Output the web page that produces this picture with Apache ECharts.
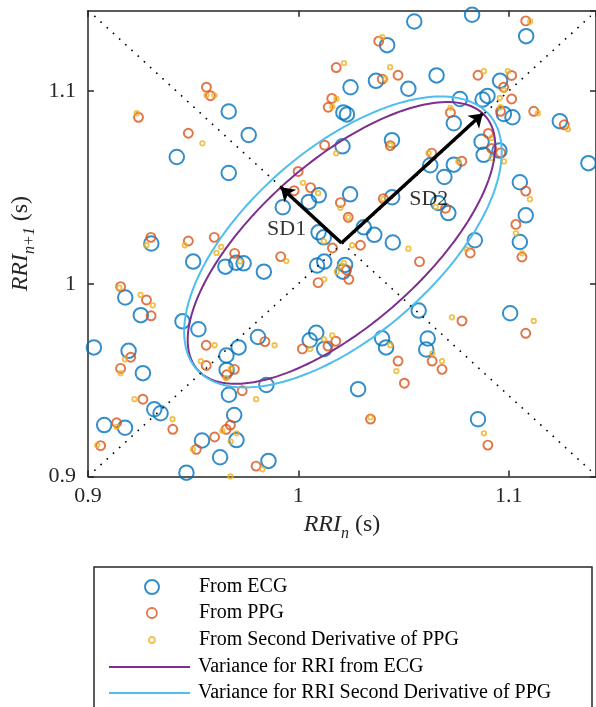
<!DOCTYPE html>
<html><head><meta charset="utf-8">
<script src="https://cdn.jsdelivr.net/npm/echarts@6/dist/echarts.min.js"></script>
<style>html,body{margin:0;padding:0;background:#fff}#c{width:596px;height:707px}</style>
</head><body><div id="c"></div><script>
// ---- data (seconds) ----
const ecgX = [0.9669,0.9764,0.9422,0.9669,0.9301,0.9500,0.9653,0.9705,0.9740,0.9836,0.9177,0.9251,0.9449,0.9525,0.9028,0.9193,0.9261,0.9716,0.9658,0.9659,0.9808,0.9848,0.9670,0.9315,0.9345,0.9077,0.9176,0.9695,0.9706,0.9542,0.9628,0.9468,0.9858,1.0551,1.0826,1.1083,1.0422,1.0248,1.0369,1.0523,1.0657,1.0214,1.0231,1.0210,1.0445,1.0097,1.0050,0.9926,1.0246,1.0446,1.0311,1.0361,1.0096,1.0121,1.0449,1.0959,1.0899,1.0876,1.0768,1.0739,1.0977,1.1018,1.1243,1.1379,1.0871,1.0881,1.0956,1.0739,1.0627,1.0694,1.1053,1.1081,1.1053,1.0839,1.0665,1.0713,1.0089,1.0123,1.0222,1.0212,1.0572,1.0615,1.0608,1.0398,1.0417,1.0284,1.0085,1.0054,1.0123,1.1007,1.0854];
const ecgY = [1.0894,1.0772,1.0658,1.0575,1.0209,1.0115,1.0089,1.0109,1.0106,1.0063,0.9929,0.9837,0.9805,0.9764,0.9670,0.9652,0.9536,0.9670,0.9628,0.9553,0.9724,0.9475,0.9424,0.9349,0.9328,0.9267,0.9253,0.9319,0.9189,0.9187,0.9100,0.9020,0.9081,1.1361,1.1396,1.1285,1.1238,1.1020,1.1053,1.1012,1.1081,1.0889,1.0879,1.0713,1.0745,1.0459,1.0425,1.0397,1.0464,1.0449,1.0293,1.0254,1.0267,1.0241,1.0214,1.1053,1.0975,1.0956,1.0959,1.0833,1.0881,1.0864,1.0844,1.0626,1.0737,1.0669,1.0691,1.0618,1.0615,1.0554,1.0527,1.0355,1.0217,1.0226,1.0419,1.0367,1.0095,1.0115,1.0098,1.0063,0.9861,0.9716,0.9659,0.9717,0.9670,0.9453,0.9746,0.9707,0.9662,0.9847,0.9297];

const ppgX = [0.9563,0.9582,0.9240,0.9477,0.9299,0.9477,0.9600,0.9697,0.9916,0.9155,0.9278,0.9300,0.9203,0.9155,0.9562,0.9562,0.9696,0.9659,0.9733,0.9261,0.9403,0.9136,0.9060,0.9677,0.9657,0.9602,0.9515,0.9799,0.9841,1.0382,1.1081,1.0180,1.0399,1.0474,1.0159,1.0142,1.0125,1.0437,0.9999,1.0058,0.9980,1.0200,1.0237,1.0162,1.0295,1.0404,1.0854,1.1014,1.0976,1.1014,1.0723,1.0961,1.1119,1.1264,1.0903,1.0919,1.0962,1.0777,1.0634,1.1081,1.1034,1.0700,1.0576,1.0817,1.1063,1.0229,1.0240,1.0094,1.0019,1.0178,1.0141,1.0474,1.0504,1.0343,1.0778,1.1081,1.0636,1.0683,1.0901];
const ppgY = [1.1020,1.0976,1.0864,1.0781,1.0241,1.0222,1.0241,1.0158,1.0141,0.9985,0.9916,0.9834,0.9619,0.9561,0.9681,0.9576,0.9556,0.9528,0.9445,0.9401,0.9245,0.9279,0.9160,0.9267,0.9245,0.9205,0.9141,0.9054,0.9700,1.1259,1.1364,1.1122,1.1062,1.1082,1.0962,1.0916,1.0719,1.0717,1.0583,1.0499,1.0483,1.0421,1.0345,1.0186,1.0200,1.0442,1.1082,1.1081,1.1020,1.0959,1.0888,1.0895,1.0895,1.0825,1.0780,1.0702,1.0680,1.0636,1.0678,1.0481,1.0308,1.0392,1.0115,1.0160,1.0139,1.0072,1.0023,1.0006,0.9662,0.9702,0.9677,0.9599,0.9484,0.9298,0.9807,0.9743,0.9599,0.9556,0.9163];

const d2X = [0.9563,0.9601,0.9232,0.9544,0.9278,0.9460,0.9633,0.9611,0.9724,0.9943,0.9149,0.9250,0.9308,0.9175,0.9155,0.9602,0.9536,0.9680,0.9656,0.9799,0.9221,0.9402,0.9136,0.9044,0.9639,0.9706,0.9678,0.9499,0.9677,0.9829,0.9887,1.0399,1.0217,1.0414,1.0436,1.0181,1.0161,1.0180,1.0437,1.0022,1.0094,1.0200,1.0237,1.0121,1.0256,1.0404,1.1102,1.0882,1.0996,1.0977,1.0958,1.0961,1.0723,1.1139,1.1281,1.0918,1.0918,1.0978,1.0761,1.0619,1.1101,1.1034,1.0653,1.0523,1.0800,1.1064,1.0216,1.0200,1.0183,1.0123,1.0056,1.0122,1.0161,1.0437,1.0466,1.0343,1.0730,1.1119,1.0637,1.0683,1.0882];
const d2Y = [1.0978,1.0978,1.0885,1.0729,1.0200,1.0200,1.0191,1.0160,1.0116,1.0118,0.9980,0.9942,0.9888,0.9608,0.9536,0.9681,0.9599,0.9561,0.9510,0.9401,0.9401,0.9297,0.9258,0.9163,0.9237,0.9224,0.9181,0.9141,0.9001,0.9037,0.9681,1.1280,1.1145,1.1063,1.1124,1.0960,1.0918,1.0677,1.0720,1.0524,1.0470,1.0394,1.0345,1.0220,1.0200,1.0440,1.1361,1.1103,1.1103,1.1006,1.0964,1.0916,1.0913,1.0885,1.0802,1.0757,1.0653,1.0635,1.0635,1.0678,1.0439,1.0262,1.0399,1.0182,1.0179,1.0158,1.0109,1.0092,1.0063,1.0023,0.9661,0.9712,0.9732,0.9681,0.9547,0.9307,0.9826,0.9807,0.9639,0.9599,0.9224];

// ellipse parameters: centre [x, y] and [SD1, SD2]
const ecgCentre = [1.0205, 1.0212];
const ecgSD = [0.0408, 0.0950];
const d2Centre = [1.0212, 1.0217];
const d2SD = [0.0467, 0.0960];

// axis ticks
const axisMin = 0.9, xMax = 1.1415, yMax = 1.1417, tickStep = 0.1;
const tickLabels = {'0.9':'0.9','1':'1','1.1':'1.1'};

const names = ['From ECG','From PPG','From Second Derivative of PPG','Variance for RRI from ECG','Variance for RRI Second Derivative of PPG'];
const colors = ['#0072BD','#D95319','#EDB120','#7E2F8E','#4DBEEE'];

function zip(a,b){return a.map((v,i)=>[v,b[i]]);}
function ellipse(c, sd){
  const pts=[];
  for(let k=0;k<=360;k+=2){
    const t=k*Math.PI/180, u=sd[1]*Math.cos(t), v=sd[0]*Math.sin(t);
    pts.push([c[0]+(u-v)/Math.SQRT2, c[1]+(u+v)/Math.SQRT2]);
  }
  return pts;
}
const sd1Tip=[ecgCentre[0]-ecgSD[0]/Math.SQRT2, ecgCentre[1]+ecgSD[0]/Math.SQRT2];
const sd2Tip=[ecgCentre[0]+ecgSD[1]/Math.SQRT2, ecgCentre[1]+ecgSD[1]/Math.SQRT2];

const AX='#262626', FONT='Liberation Serif';
function fmt(v){const k=(Math.round(v*1000)/1000).toString(); return tickLabels[k]!==undefined?tickLabels[k]:'';}
const rich={
  i:{fontFamily:FONT,fontStyle:'italic',fontSize:24,color:AX,verticalAlign:'bottom',padding:[0,0,5,0]},
  s:{fontFamily:FONT,fontStyle:'italic',fontSize:16,color:AX,verticalAlign:'bottom'},
  r:{fontFamily:FONT,fontSize:24,color:AX,verticalAlign:'bottom',padding:[0,0,5,0]}
};
function axis(pos, main, max, extra){
  return Object.assign({
    type:'value', position:pos, min:axisMin, max:max, interval:tickStep,
    axisLine:{show:true,onZero:false,lineStyle:{color:AX,width:1.5}},
    axisTick:{show:true,inside:true,length:6,lineStyle:{color:AX,width:1.5}},
    axisLabel:{show:main,formatter:fmt,showMaxLabel:false,fontFamily:FONT,fontSize:22,color:AX},
    splitLine:{show:false}
  }, extra||{});
}
function scatter(idx, x, y, size, bw){
  return {name:names[idx], type:'scatter', data:zip(x,y), symbol:'circle', symbolSize:size,
    itemStyle:{color:'rgba(0,0,0,0)', borderColor:colors[idx], borderWidth:bw}, clip:false, z:2};
}
const legendRows=[587,613,640,667,693];
const legendIconH=[14,10,6,14,14];
const legendBorder=[2,1.8,1.8];
const legends=names.map((n,i)=>{
  const isMarker=i<3;
  return {
    data:[isMarker
      ? {name:n,icon:'circle',itemStyle:{color:'rgba(0,0,0,0)',borderColor:colors[i],borderWidth:legendBorder[i]}}
      : {name:n,icon:'path://M0,0H81V2H0Z',itemStyle:{color:colors[i],borderWidth:0}}],
    left:isMarker?151-legendIconH[i]/2:109, top:legendRows[i]-10, orient:'vertical', padding:0, itemGap:0,
    itemWidth:isMarker?78:81, itemHeight:legendIconH[i], selectedMode:false,
    textStyle:{fontFamily:FONT,fontSize:20,color:'#000',padding:[0,0,0,3]}
  };
});

const chart=echarts.init(document.getElementById('c'));
chart.setOption({
  animation:false,
  backgroundColor:'#fff',
  grid:{left:88, top:10.7, right:-1, bottom:230.5, containLabel:false},
  xAxis:[
    axis('bottom', true, xMax, {axisLabel:{show:true,formatter:fmt,showMaxLabel:false,fontFamily:FONT,fontSize:22,color:AX,margin:9},
      name:'{i|RRI}{s|n} {r|(s)}', nameLocation:'middle', nameGap:34, nameTextStyle:{fontFamily:FONT,fontSize:24,color:AX,rich:rich}}),
    axis('top', false, xMax)
  ],
  yAxis:[
    axis('left', true, yMax, {axisLabel:{show:true,formatter:fmt,showMaxLabel:false,fontFamily:FONT,fontSize:22,color:AX,margin:12},
      name:'{i|RRI}{s|n+1} {r|(s)}', nameLocation:'middle', nameGap:50, nameTextStyle:{fontFamily:FONT,fontSize:24,color:AX,rich:rich}}),
    axis('right', false, yMax)
  ],
  legend:legends,
  graphic:[{type:'rect', shape:{x:94, y:567, width:498, height:170}, style:{fill:'none', stroke:AX, lineWidth:1.5}, z:0}],
  series:[
    scatter(0, ecgX, ecgY, 14.5, 2),
    scatter(1, ppgX, ppgY, 9, 1.9),
    scatter(2, d2X, d2Y, 4.5, 1.8),
    {name:names[3], type:'line', data:ellipse(ecgCentre, ecgSD), symbol:'none', showSymbol:false, lineStyle:{color:colors[3], width:2}, itemStyle:{color:colors[3]}, z:3},
    {name:names[4], type:'line', data:ellipse(d2Centre, d2SD), symbol:'none', showSymbol:false, lineStyle:{color:colors[4], width:2}, itemStyle:{color:colors[4]}, z:3},
    {name:'identity', type:'line', data:[[0.903,0.903],[1.139,1.139]], symbol:'none', lineStyle:{color:'#000', width:1.6, type:[1.6,6.8]}, z:4},
    {name:'perp', type:'line', data:[[0.903,1.139],[1.139,0.903]], symbol:'none', lineStyle:{color:'#000', width:1.6, type:[1.6,6.8]}, z:4},
    {name:'arrows', type:'lines', coordinateSystem:'cartesian2d', symbol:['none','arrow'], symbolSize:[0,13],
      data:[{coords:[ecgCentre, sd1Tip]}, {coords:[ecgCentre, sd2Tip]}],
      lineStyle:{color:'#000', width:3.5, opacity:1, curveness:0}, z:5},
    {name:'sdlabels', type:'scatter', symbolSize:0, z:6,
      data:[{value:[0.9944,1.0282], name:'SD1'}, {value:[1.0620,1.0437], name:'SD2'}],
      label:{show:true, position:'inside', formatter:'{b}', fontFamily:FONT, fontSize:22, color:'#000'}}
  ]
});
</script></body></html>
